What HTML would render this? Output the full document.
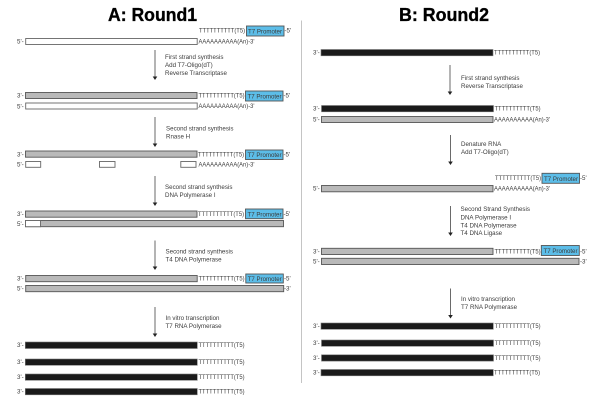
<!DOCTYPE html>
<html><head><meta charset="utf-8"><style>
html,body{margin:0;padding:0;background:#fff;width:600px;height:401px;overflow:hidden}
svg{display:block;filter:blur(.3px)}
text{font-family:"Liberation Sans",sans-serif;font-size:6.2px;fill:#3c3c3c}
.t{font-weight:bold;font-size:18px;fill:#000;stroke:#000;stroke-width:.35}
.g{fill:#b9b9b9;stroke:#555;stroke-width:.9}
.w{fill:#fff;stroke:#666;stroke-width:.9}
.k{fill:#1a1a1a;stroke:#777;stroke-width:.6}
.p{fill:#5cbde8;stroke:#555;stroke-width:.9}
.a{stroke:#444;stroke-width:.8;fill:none}
.h{fill:#222}
</style></head><body>
<svg width="600" height="401" viewBox="0 0 600 401" xmlns="http://www.w3.org/2000/svg">
<text class="t" x="108" y="21" textLength="89" lengthAdjust="spacingAndGlyphs">A: Round1</text>
<text class="t" x="399" y="21" textLength="90" lengthAdjust="spacingAndGlyphs">B: Round2</text>
<line x1="301.5" y1="20.5" x2="301.5" y2="383" stroke="#c4c4c4" stroke-width="1"/>

<!-- A row 1 -->
<text x="199" y="32.5" textLength="46" lengthAdjust="spacingAndGlyphs">TTTTTTTTTT(T5)</text>
<rect class="p" x="246.5" y="26" width="37.5" height="10"/>
<text x="248" y="33.5" textLength="34" lengthAdjust="spacingAndGlyphs">T7 Promoter</text>
<text x="284.5" y="32.5">-5'</text>
<text x="17" y="43.5">5'-</text>
<rect class="w" x="25.7" y="38.5" width="171.5" height="6"/>
<text x="198.5" y="43.5" textLength="56" lengthAdjust="spacingAndGlyphs">AAAAAAAAAA(An)-3'</text>

<line class="a" x1="155" y1="50" x2="155" y2="77"/><path class="h" d="M152.7 76.5h4.6l-2.3 3.5z"/>
<text x="165" y="59">First strand synthesis</text>
<text x="165" y="67">Add T7-Oligo(dT)</text>
<text x="165" y="75">Reverse Transcriptase</text>

<!-- A row 2 -->
<text x="17" y="97.5">3'-</text>
<rect class="g" x="25.5" y="92.5" width="171.5" height="6"/>
<text x="198.5" y="97.5" textLength="46" lengthAdjust="spacingAndGlyphs">TTTTTTTTTT(T5)</text>
<rect class="p" x="245.5" y="91" width="37.5" height="10"/>
<text x="247.5" y="98.5" textLength="34" lengthAdjust="spacingAndGlyphs">T7 Promoter</text>
<text x="283.5" y="97.5">-5'</text>
<text x="17" y="108.5">5'-</text>
<rect class="w" x="25.7" y="103" width="171.5" height="6"/>
<text x="198.5" y="108" textLength="56" lengthAdjust="spacingAndGlyphs">AAAAAAAAAA(An)-3'</text>

<line class="a" x1="155" y1="117" x2="155" y2="144"/><path class="h" d="M152.7 143.5h4.6l-2.3 3.5z"/>
<text x="166" y="130.5">Second strand synthesis</text>
<text x="166" y="138.7">Rnase H</text>

<!-- A row 3 -->
<text x="17" y="156.5">3'-</text>
<rect class="g" x="25.5" y="151" width="171.5" height="6.2"/>
<text x="198" y="156.5" textLength="46" lengthAdjust="spacingAndGlyphs">TTTTTTTTTT(T5)</text>
<rect class="p" x="245.5" y="150" width="37.5" height="9.5"/>
<text x="247.5" y="157" textLength="34" lengthAdjust="spacingAndGlyphs">T7 Promoter</text>
<text x="283.5" y="156.5">-5'</text>
<text x="17" y="166.5">5'-</text>
<rect class="w" x="25.7" y="161.5" width="15" height="5.8"/>
<rect class="w" x="99.5" y="161.5" width="15.5" height="5.8"/>
<rect class="w" x="180.8" y="161.5" width="15.2" height="5.8"/>
<text x="198.5" y="166.5" textLength="56" lengthAdjust="spacingAndGlyphs">AAAAAAAAAA(An)-3'</text>

<line class="a" x1="155" y1="176" x2="155" y2="203"/><path class="h" d="M152.7 202.5h4.6l-2.3 3.5z"/>
<text x="165" y="189">Second strand synthesis</text>
<text x="165" y="197">DNA Polymerase I</text>

<!-- A row 4 -->
<text x="17" y="216">3'-</text>
<rect class="g" x="25.5" y="211" width="171.5" height="6.2"/>
<text x="198" y="216" textLength="46" lengthAdjust="spacingAndGlyphs">TTTTTTTTTT(T5)</text>
<rect class="p" x="245.5" y="209" width="37.5" height="9.7"/>
<text x="247.5" y="216.3" textLength="34" lengthAdjust="spacingAndGlyphs">T7 Promoter</text>
<text x="283.5" y="216">-5'</text>
<text x="17" y="226">5'-</text>
<rect class="g" x="25.5" y="220.5" width="258" height="6.2"/>
<rect class="w" x="25.5" y="220.5" width="15" height="6.2"/>

<line class="a" x1="155" y1="240.5" x2="155" y2="267"/><path class="h" d="M152.7 266.5h4.6l-2.3 3.5z"/>
<text x="165.5" y="253.5">Second strand synthesis</text>
<text x="165.5" y="261.5">T4 DNA Polymerase</text>

<!-- A row 5 -->
<text x="17" y="280.5">3'-</text>
<rect class="g" x="25.7" y="275.5" width="171.5" height="6.2"/>
<text x="198.5" y="280.5" textLength="46" lengthAdjust="spacingAndGlyphs">TTTTTTTTTT(T5)</text>
<rect class="p" x="245.8" y="274" width="37.5" height="9"/>
<text x="247.7" y="280.8" textLength="34" lengthAdjust="spacingAndGlyphs">T7 Promoter</text>
<text x="284" y="280.5">-5'</text>
<text x="17" y="290.5">5'-</text>
<rect class="g" x="25.7" y="285.5" width="258" height="6.2"/>
<text x="284" y="290.5">-3'</text>

<line class="a" x1="155" y1="307" x2="155" y2="334"/><path class="h" d="M152.7 333.5h4.6l-2.3 3.5z"/>
<text x="165.5" y="320">In vitro transcription</text>
<text x="165.5" y="328">T7 RNA Polymerase</text>

<!-- A black rows -->
<text x="17" y="347">3'-</text><rect class="k" x="25.3" y="342" width="172" height="6.5"/>
<text x="198.5" y="347.2" textLength="46" lengthAdjust="spacingAndGlyphs">TTTTTTTTTT(T5)</text>
<text x="17" y="364">3'-</text><rect class="k" x="25.3" y="359" width="172" height="6.3"/>
<text x="198.5" y="364" textLength="46" lengthAdjust="spacingAndGlyphs">TTTTTTTTTT(T5)</text>
<text x="17" y="379">3'-</text><rect class="k" x="25.3" y="374" width="172" height="6.3"/>
<text x="198.5" y="379" textLength="46" lengthAdjust="spacingAndGlyphs">TTTTTTTTTT(T5)</text>
<text x="17" y="393.7">3'-</text><rect class="k" x="25.3" y="388.5" width="172" height="6.3"/>
<text x="198.5" y="393.7" textLength="46" lengthAdjust="spacingAndGlyphs">TTTTTTTTTT(T5)</text>

<!-- B row 1 -->
<text x="313" y="54.5">3'-</text><rect class="k" x="321" y="49.5" width="172" height="6.3"/>
<text x="494" y="54.7" textLength="46" lengthAdjust="spacingAndGlyphs">TTTTTTTTTT(T5)</text>

<line class="a" x1="450" y1="65" x2="450" y2="92"/><path class="h" d="M447.7 91.5h4.6l-2.3 3.5z"/>
<text x="461" y="79.8">First strand synthesis</text>
<text x="461" y="88">Reverse Transcriptase</text>

<!-- B row 2 -->
<text x="313" y="110.5">3'-</text><rect class="k" x="321.5" y="105.5" width="172" height="6.3"/>
<text x="494.5" y="110.7" textLength="46" lengthAdjust="spacingAndGlyphs">TTTTTTTTTT(T5)</text>
<text x="313" y="121.5">5'-</text><rect class="g" x="321.5" y="116.5" width="171.5" height="6"/>
<text x="494" y="121.7" textLength="56" lengthAdjust="spacingAndGlyphs">AAAAAAAAAA(An)-3'</text>

<line class="a" x1="450.5" y1="135" x2="450.5" y2="162"/><path class="h" d="M448.2 161.5h4.6l-2.3 3.5z"/>
<text x="461" y="145.8">Denature RNA</text>
<text x="461" y="153.8">Add T7-Oligo(dT)</text>

<!-- B row 3 -->
<text x="495" y="179.8" textLength="46" lengthAdjust="spacingAndGlyphs">TTTTTTTTTT(T5)</text>
<rect class="p" x="542" y="173.3" width="37.5" height="10"/>
<text x="544" y="180.8" textLength="34" lengthAdjust="spacingAndGlyphs">T7 Promoter</text>
<text x="580" y="179.8">-5'</text>
<text x="313" y="190.5">5'-</text><rect class="g" x="321.5" y="185.5" width="171.5" height="6.3"/>
<text x="494" y="190.7" textLength="56" lengthAdjust="spacingAndGlyphs">AAAAAAAAAA(An)-3'</text>

<line class="a" x1="450.5" y1="206" x2="450.5" y2="233"/><path class="h" d="M448.2 232.5h4.6l-2.3 3.5z"/>
<text x="460.5" y="211">Second Strand Synthesis</text>
<text x="460.5" y="219.3">DNA Polymerase I</text>
<text x="460.5" y="227.3">T4 DNA Polymerase</text>
<text x="460.5" y="235">T4 DNA Ligase</text>

<!-- B row 4 -->
<text x="313" y="253.3">3'-</text><rect class="g" x="321.5" y="248.3" width="171.5" height="6.2"/>
<text x="494.5" y="253.5" textLength="46" lengthAdjust="spacingAndGlyphs">TTTTTTTTTT(T5)</text>
<rect class="p" x="541.3" y="245.5" width="38" height="10"/>
<text x="543.5" y="253" textLength="34" lengthAdjust="spacingAndGlyphs">T7 Promoter</text>
<text x="580" y="253.3">-5'</text>
<text x="313" y="263.5">5'-</text><rect class="g" x="321.5" y="258.3" width="257.5" height="6.2"/>
<text x="580" y="263.5">-3'</text>

<line class="a" x1="450.5" y1="288.5" x2="450.5" y2="315.5"/><path class="h" d="M448.2 315h4.6l-2.3 3.5z"/>
<text x="461" y="301">In vitro transcription</text>
<text x="461" y="309">T7 RNA Polymerase</text>

<!-- B black rows -->
<text x="313" y="328">3'-</text><rect class="k" x="321" y="323" width="172.3" height="6.3"/>
<text x="494.5" y="328.2" textLength="46" lengthAdjust="spacingAndGlyphs">TTTTTTTTTT(T5)</text>
<text x="313" y="345">3'-</text><rect class="k" x="321.5" y="340" width="172" height="6.3"/>
<text x="494.5" y="345" textLength="46" lengthAdjust="spacingAndGlyphs">TTTTTTTTTT(T5)</text>
<text x="313" y="359.8">3'-</text><rect class="k" x="321.5" y="354.8" width="172" height="6.3"/>
<text x="494.5" y="359.8" textLength="46" lengthAdjust="spacingAndGlyphs">TTTTTTTTTT(T5)</text>
<text x="313" y="374.5">3'-</text><rect class="k" x="321" y="369.5" width="172.3" height="6.3"/>
<text x="494" y="374.5" textLength="46" lengthAdjust="spacingAndGlyphs">TTTTTTTTTT(T5)</text>
</svg>
</body></html>
